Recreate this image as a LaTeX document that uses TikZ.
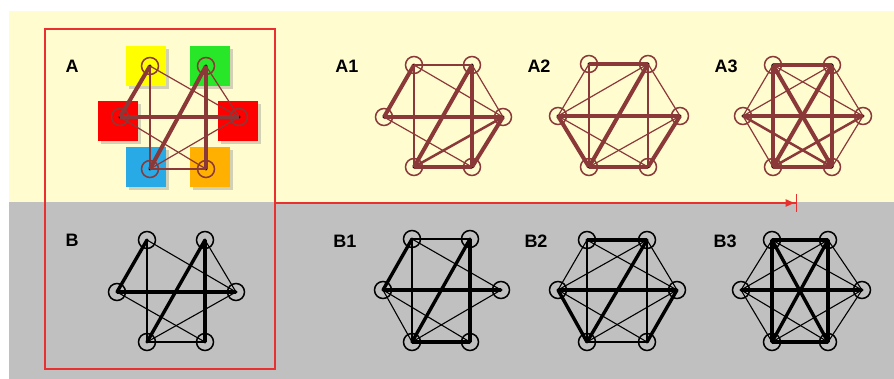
\documentclass[tikz,border=0pt]{standalone}
\usepackage{fontspec}
\setmainfont{Liberation Sans}
\usetikzlibrary{arrows.meta,shadows}
\definecolor{brn}{RGB}{139,56,56}
\definecolor{bgy}{RGB}{255,253,208}
\definecolor{bgg}{RGB}{192,192,192}
\definecolor{rline}{RGB}{232,48,48}
\definecolor{sqY}{RGB}{255,255,0}
\definecolor{sqG}{RGB}{40,230,40}
\definecolor{sqR}{RGB}{255,0,0}
\definecolor{sqB}{RGB}{40,170,230}
\definecolor{sqO}{RGB}{255,176,0}
\newcommand\sixnodes[9]{%
 \node[#2] (#1TL) at (#3,#7) {};
 \node[#2] (#1TR) at (#4,#7) {};
 \node[#2] (#1L) at (#5,#8) {};
 \node[#2] (#1R) at (#6,#8) {};
 \node[#2] (#1BL) at (#3,#9) {};
 \node[#2] (#1BR) at (#4,#9) {};
}
\newcommand\gedges[3]{\foreach \u/\v in {#3} {\draw[#2] (#1\u.center) -- (#1\v.center);}}
\begin{document}
\begin{tikzpicture}[x=1pt,y=-1pt,
  vtx/.style={circle, line width=1.5, minimum size=17, inner sep=0,
    path picture={\fill[black] (path picture bounding box.center) circle (1.7);}},
  vA/.style={vtx, draw=brn},
  vB/.style={vtx, draw=black},
  ta/.style={brn, line width=1.2},
  ma/.style={brn, line width=2.5},
  ka/.style={brn, line width=4},
  tb/.style={black, line width=1.1},
  mb/.style={black, line width=2.3},
  kb/.style={black, line width=3.4},
  sq/.style={minimum size=40, inner sep=0, draw=none,
    drop shadow={shadow xshift=3pt, shadow yshift=-3pt, opacity=0.35}},
  lbl/.style={font=\fontsize{18}{20}\selectfont\bfseries, inner sep=0}]
\useasboundingbox (0,0) rectangle (894,379);
\fill[white] (0,0) rectangle (894,379);
\fill[bgy] (9,11) rectangle (894,202);
\fill[bgg] (9,202) rectangle (894,379);
% colour squares
\node[sq, fill=sqY] (sy) at (146,66) {};
\node[sq, fill=sqG] (sg) at (210,66) {};
\node[sq, fill=sqR] (sr1) at (118,121) {};
\node[sq, fill=sqR] (sr2) at (238,121) {};
\node[sq, fill=sqB] (sb) at (146,167) {};
\node[sq, fill=sqO] (so) at (210,167) {};
% frame and arrow
\node[draw=rline, line width=1.3, minimum width=230, minimum height=340, inner sep=0] (frame) at (160,199) {};
\coordinate (arrS) at (275,203);
\coordinate (arrE) at (797,203);
\draw[rline, line width=1.3, -{Latex[length=10,width=8]Bar[width=18,line width=1.3]}] (arrS) -- (arrE);
% labels
\node[lbl] (lA) at (72,66) {A};
\node[lbl] (lA1) at (347,66) {A1};
\node[lbl] (lA2) at (539,66) {A2};
\node[lbl] (lA3) at (726,66) {A3};
\node[lbl] (lB) at (72,240) {B};
\node[lbl] (lB1) at (345,241) {B1};
\node[lbl] (lB2) at (536,241) {B2};
\node[lbl] (lB3) at (725,241) {B3};
% A
\sixnodes{a}{vA}{150}{206}{120}{239}{66}{117}{169}
\gedges{a}{ta}{TL/BL,TL/R,TR/R,L/BR,R/BL}
\gedges{a}{ma}{BL/BR}
\gedges{a}{ka}{TL/L,L/R,TR/BL,TR/BR}
% A1
\sixnodes{p}{vA}{414}{472}{384}{503}{65}{117}{167}
\gedges{p}{ta}{TL/TR,TL/BL,TL/R,TR/R,L/BR}
\gedges{p}{ma}{R/BL}
\gedges{p}{ka}{TL/L,TR/BL,TR/BR,L/R,R/BR,BL/BR}
% A2
\sixnodes{q}{vA}{589}{648}{558}{680}{64}{116}{167}
\gedges{q}{ta}{TL/L,TL/BL,TR/L,TR/R,TR/BR,L/BR,R/BL}
\gedges{q}{ka}{TL/TR,TR/BL,L/R,L/BL,R/BR,BL/BR}
% A3
\sixnodes{r}{vA}{773}{832}{743}{863}{65}{116}{167}
\gedges{r}{ta}{TL/L,TL/R,TR/L,TR/R,L/BL,R/BR}
\gedges{r}{ma}{L/BR,R/BL}
\gedges{r}{ka}{TL/TR,TL/BL,TL/BR,TR/BL,TR/BR,L/R,BL/BR}
% B
\sixnodes{b}{vB}{147}{205}{117}{236}{240}{292}{342}
\gedges{b}{tb}{TL/BL,TL/R,TR/R,L/BR,R/BL}
\gedges{b}{mb}{BL/BR}
\gedges{b}{kb}{TL/L,L/R,TR/BL,TR/BR}
% B1
\sixnodes{s}{vB}{412}{470}{383}{501}{239}{290}{342}
\gedges{s}{tb}{TL/TR,TL/BL,TL/R,L/BL,L/BR,R/BL}
\gedges{s}{kb}{TL/L,TR/BL,TR/BR,L/R,BL/BR}
% B2
\sixnodes{t}{vB}{587}{647}{558}{677}{240}{290}{342}
\gedges{t}{tb}{TL/L,TL/BL,TL/R,TR/L,TR/R,TR/BR,L/BR,R/BL,BL/BR}
\gedges{t}{kb}{TL/TR,TR/BL,L/R,L/BL,R/BR}
% B3
\sixnodes{u}{vB}{772}{828}{741}{862}{240}{290}{342}
\gedges{u}{tb}{TL/L,TL/R,TR/L,TR/R,L/BL,L/BR,R/BL,R/BR}
\gedges{u}{kb}{TL/TR,TL/BL,TL/BR,TR/BL,TR/BR,L/R,BL/BR}
\end{tikzpicture}
\end{document}
